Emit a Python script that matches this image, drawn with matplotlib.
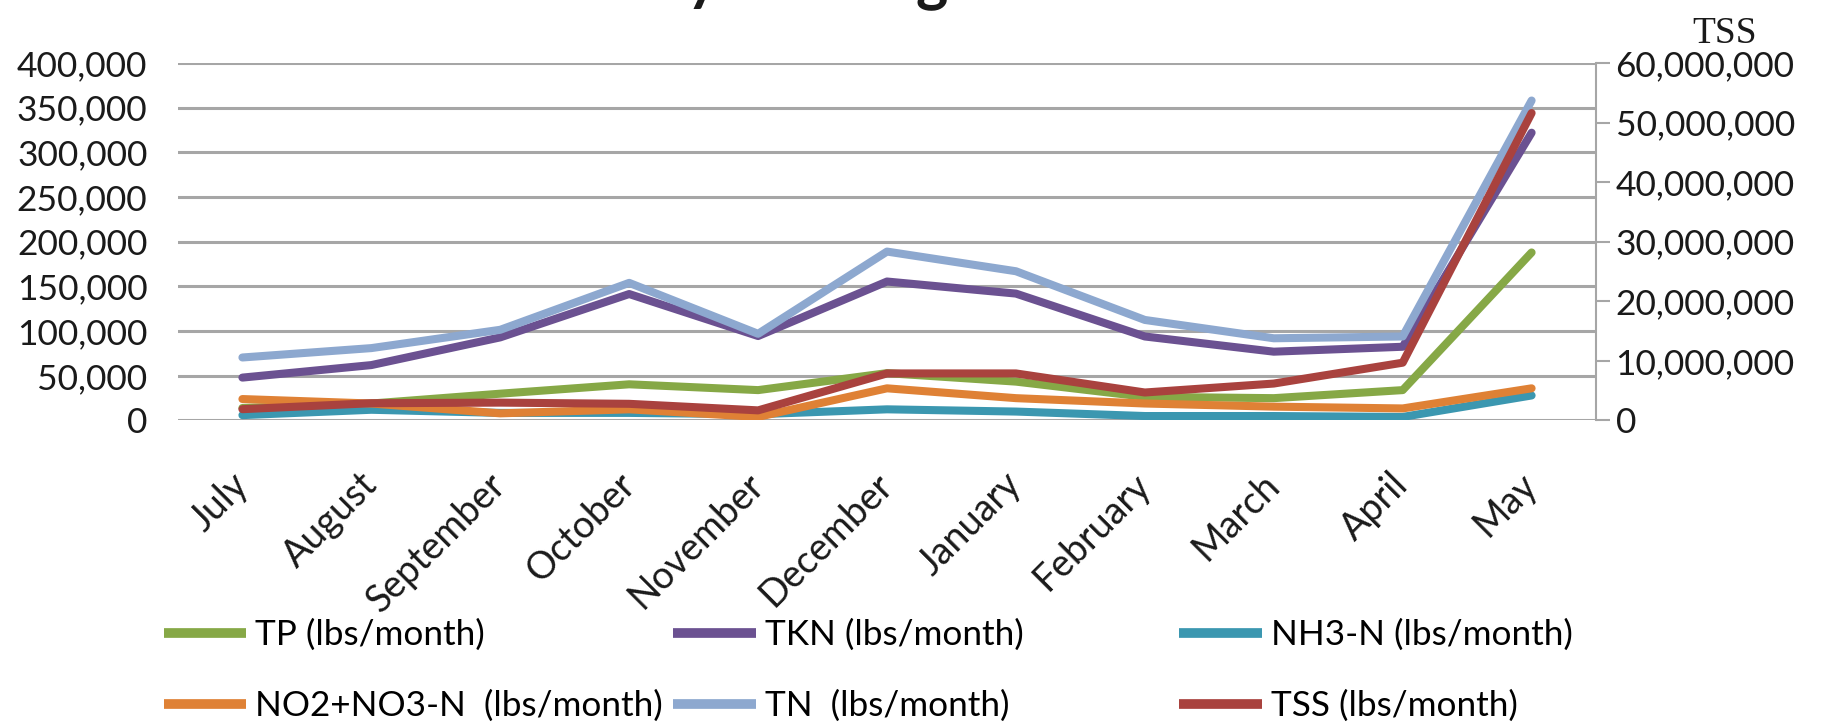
import matplotlib.pyplot as plt
from matplotlib.ticker import FuncFormatter

# -----------------------------
# Monthly loads
# -----------------------------
months = ["July", "August", "September", "October", "November", "December",
          "January", "February", "March", "April", "May"]

tp = [14000, 19000, 30000, 40500, 34000, 53000, 43500, 26500, 25000, 34000, 188000]
tkn = [48000, 62000, 93000, 141500, 94500, 155500, 142000, 94000, 77000, 82500, 322000]
nh3 = [6000, 12000, 8500, 8500, 7000, 12500, 10000, 5000, 5000, 4000, 28000]
no2_no3 = [24000, 19000, 8000, 12500, 4000, 36000, 25000, 19000, 15500, 13500, 36000]
tn = [70500, 81000, 101500, 154000, 97000, 189000, 167000, 112500, 92000, 94000, 358000]
tss = [1900000, 2900000, 3000000, 2800000, 1700000, 7900000, 7900000, 4700000,
       6200000, 9700000, 51600000]

left_series = [
    ("TP (lbs/month)", tp, "#86a846"),
    ("TKN (lbs/month)", tkn, "#6b5191"),
    ("NH3-N (lbs/month)", nh3, "#3b97b0"),
    ("NO2+NO3-N  (lbs/month)", no2_no3, "#df8135"),
    ("TN  (lbs/month)", tn, "#8da8cf"),
]
tss_label = "TSS (lbs/month)"
tss_color = "#a9423e"

FONT = ["Lato", "DejaVu Sans"]
GRID = "#a6a6a6"
LW = 5.8

plt.rcParams["font.family"] = FONT

fig = plt.figure(figsize=(18.27, 7.24), dpi=100)
ax = fig.add_axes([0.0974, 0.4192, 0.7762, 0.4938])
ax2 = ax.twinx()

x = list(range(len(months)))
handles = {}
for label, vals, color in left_series:
    (h,) = ax.plot(x, vals, color=color, lw=LW, solid_capstyle="round",
                   solid_joinstyle="round", label=label, zorder=3)
    handles[label] = h
(h,) = ax2.plot(x, tss, color=tss_color, lw=LW, solid_capstyle="round",
                solid_joinstyle="round", label=tss_label, zorder=3)
handles[tss_label] = h

# left axis
ax.set_xlim(-0.5, len(months) - 0.5)
ax.set_ylim(0, 400000)
ax.set_yticks(range(0, 400001, 50000))
ax.yaxis.set_major_formatter(FuncFormatter(lambda v, p: f"{int(v):,}"))
ax.grid(axis="y", color=GRID, lw=2.2)
ax.set_axisbelow(True)
ax.tick_params(axis="y", length=0, pad=22, labelsize=25.5, colors="#1a1a1a")
ax.set_xticks(x)
ax.set_xticklabels(months, rotation=45, ha="right", va="center",
                   rotation_mode="anchor", fontsize=27, color="#1a1a1a")
ax.tick_params(axis="x", length=0, pad=42)
for s in ax.spines.values():
    s.set_visible(False)

# right axis (TSS)
ax2.set_ylim(0, 60000000)
ax2.set_yticks(range(0, 60000001, 10000000))
ax2.yaxis.set_major_formatter(FuncFormatter(lambda v, p: f"{int(v):,}"))
ax2.tick_params(axis="y", length=10, width=1.5, color=GRID, pad=4,
                labelsize=25.5, labelcolor="#1a1a1a")
for name, s in ax2.spines.items():
    s.set_visible(name == "right")
ax2.spines["right"].set_color(GRID)
ax2.spines["right"].set_linewidth(1.5)
fig.text(0.944, 0.953, "TSS", fontsize=27, family=["Liberation Serif", "DejaVu Serif"],
         ha="center", va="center", color="#1a1a1a")

# chart title sits mostly above the canvas edge
fig.text(0.40, 1.003, "Monthly Loadings", fontsize=44, fontweight="bold",
         ha="center", va="baseline", color="#1a1a1a")

# legend in three columns of two rows
columns = [
    ["TP (lbs/month)", "NO2+NO3-N  (lbs/month)"],
    ["TKN (lbs/month)", "TN  (lbs/month)"],
    ["NH3-N (lbs/month)", tss_label],
]
col_x = [0.0895, 0.3685, 0.6455]
for cx, labels in zip(col_x, columns):
    leg = fig.legend([handles[l] for l in labels], labels, loc="upper left",
                     bbox_to_anchor=(cx, 0.145), frameon=False, fontsize=25.3,
                     handlelength=2.35, handletextpad=0.25, labelspacing=1.1,
                     borderaxespad=0, borderpad=0)
    for line in leg.get_lines():
        line.set_linewidth(7)
        line.set_solid_capstyle("butt")

fig.savefig("out.png", dpi=100)
